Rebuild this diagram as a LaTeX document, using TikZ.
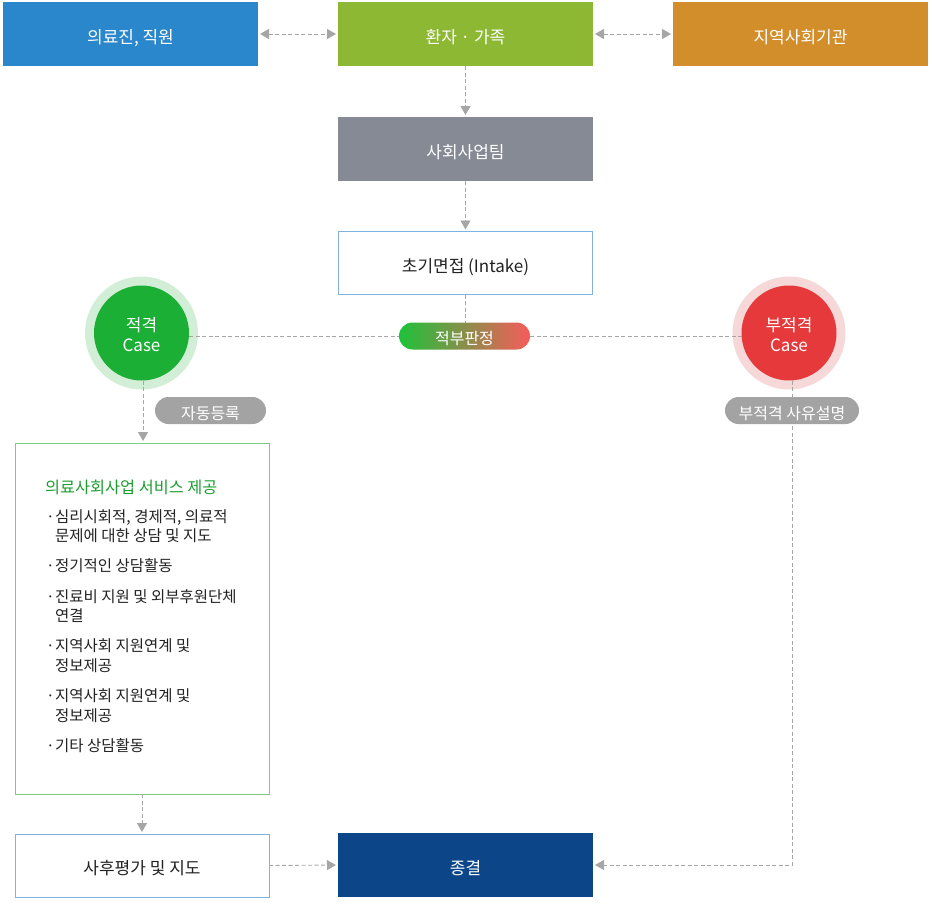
\documentclass[tikz,border=0pt]{standalone}
\usepackage{fontspec}
\setmainfont{Noto Sans CJK KR}
\usetikzlibrary{arrows.meta,shapes.misc}
\definecolor{cblue}{HTML}{2B87CC}
\definecolor{cgreen}{HTML}{8CB833}
\definecolor{corange}{HTML}{D28E2B}
\definecolor{cgray}{HTML}{868A94}
\definecolor{cnavy}{HTML}{0C4689}
\definecolor{lblue}{HTML}{7FB2DF}
\definecolor{lgreen}{HTML}{7ACC84}
\definecolor{okgreen}{HTML}{1BAF35}
\definecolor{okhalo}{HTML}{D2EED6}
\definecolor{nored}{HTML}{E5393B}
\definecolor{nohalo}{HTML}{F7D8D8}
\definecolor{pillgray}{HTML}{A3A3A3}
\definecolor{linegray}{HTML}{A6A6A6}
\definecolor{titlegreen}{HTML}{1A9E2E}
\definecolor{txt}{HTML}{222222}
\definecolor{gradL}{HTML}{1DC23A}
\definecolor{gradR}{HTML}{F75B5B}
\tikzset{
  solidbox/.style={rectangle, minimum width=255pt, minimum height=64pt, inner sep=0pt, outer sep=0pt, text=white, font=\fontsize{17}{20}\selectfont, text height=18pt, text depth=0pt},
  linebox/.style={rectangle, draw=lblue, line width=0.8pt, fill=white, minimum width=254pt, minimum height=63pt, inner sep=0pt, outer sep=0pt, text=txt, font=\fontsize{17}{20}\selectfont, text height=18pt, text depth=0pt},
  casecircle/.style={circle, minimum size=95pt, inner sep=0pt, outer sep=0pt, text=white, align=center, font=\fontsize{17}{20}\selectfont, text height=37pt, text depth=0pt},
  pill/.style={rounded rectangle, minimum height=27pt, inner sep=0pt, outer sep=0pt, text=white, font=\fontsize{16}{18}\selectfont, text height=17.5pt, text depth=0pt},
  conn/.style={draw=linegray, line width=0.9pt, dash pattern=on 4pt off 2.5pt},
  tip/.style={-{Triangle[width=10pt,length=9pt,sep=2pt]}},
  bothtip/.style={{Triangle[width=10pt,length=9pt,sep=2pt]}-{Triangle[width=10pt,length=9pt,sep=2pt]}},
  svctext/.style={anchor=west, inner sep=0pt, text=txt, font=\fontsize{15.5}{18}\selectfont, text height=12pt, text depth=2pt},
}
\begin{document}
\begin{tikzpicture}[x=1pt,y=-1pt]
\useasboundingbox (0,0) rectangle (932,903);
% top row
\node[solidbox, fill=cblue] (staff) at (130.5,34) {의료진, 직원};
\node[solidbox, fill=cgreen] (patient) at (465.5,34) {환자 · 가족};
\node[solidbox, fill=corange] (community) at (800.5,34) {지역사회기관};
\node[solidbox, fill=cgray] (team) at (465.5,149) {사회사업팀};
\node[linebox] (intake) at (465.5,263) {초기면접 (Intake)};
% circles
\node[casecircle, fill=okgreen, preaction={draw=okhalo, line width=18pt}] (ok) at (141.5,333) {적격\\Case};
\node[casecircle, fill=nored, preaction={draw=nohalo, line width=18pt}] (no) at (789,333) {부적격\\Case};
% judgement pill
\node[pill, minimum width=131pt, left color=gradL, right color=gradR] (judge) at (464.5,336) {적부판정};
% service box
\node[rectangle, draw=lgreen, line width=0.8pt, minimum width=254pt, minimum height=351pt, inner sep=0pt, outer sep=0pt] (svc) at (142,618.5) {};
\node[linebox] (eval) at (142,865.5) {사후평가 및 지도};
\node[solidbox, fill=cnavy] (end) at (465.5,865) {종결};
% connectors
\draw[conn, bothtip] (staff.east) -- (patient.west);
\draw[conn, bothtip] (patient.east) -- (community.west);
\draw[conn, tip] (patient.south) -- (team.north);
\draw[conn, tip] (team.south) -- (intake.north);
\draw[conn] (intake.south) -- (intake.south |- judge.north);
\draw[conn] (ok.east |- judge.west) -- (judge.west);
\draw[conn] (judge.east) -- (no.west |- judge.east);
\draw[conn, tip] ([xshift=1.5pt]ok.south) -- ([xshift=1.5pt]ok.south |- svc.north);
\draw[conn, tip] (svc.south) -- (eval.north);
\draw[conn, tip] (eval.east) -- (end.west);
\draw[conn, tip] ([xshift=3pt]no.south) |- (end.east);
% label pills
\node[pill, minimum width=111pt, fill=pillgray] (auto) at (210.5,410.5) {자동등록};
\node[pill, minimum width=134pt, fill=pillgray] (reason) at (792,410.5) {부적격 사유설명};
% service content
\node[svctext, text=titlegreen, font=\fontsize{16.3}{18}\selectfont] (svctitle) at (45,488) {의료사회사업 서비스 제공};
\foreach \y/\b/\t [count=\i] in {
  517.5/·/심리시회적{,} 경제적{,} 의료적,
  536/ /문제에 대한 상담 및 지도,
  566.5/·/정기적인 상담활동,
  597.5/·/진료비 지원 및 외부후원단체,
  616/ /연결,
  646.5/·/지역사회 지원연계 및,
  666.5/ /정보제공,
  696.5/·/지역사회 지원연계 및,
  716/ /정보제공,
  746.5/·/기타 상담활동}{
  \node[svctext] (bul\i) at (46,\y) {\b};
  \node[svctext] (line\i) at (55,\y) {\t};
}
\end{tikzpicture}
\end{document}
